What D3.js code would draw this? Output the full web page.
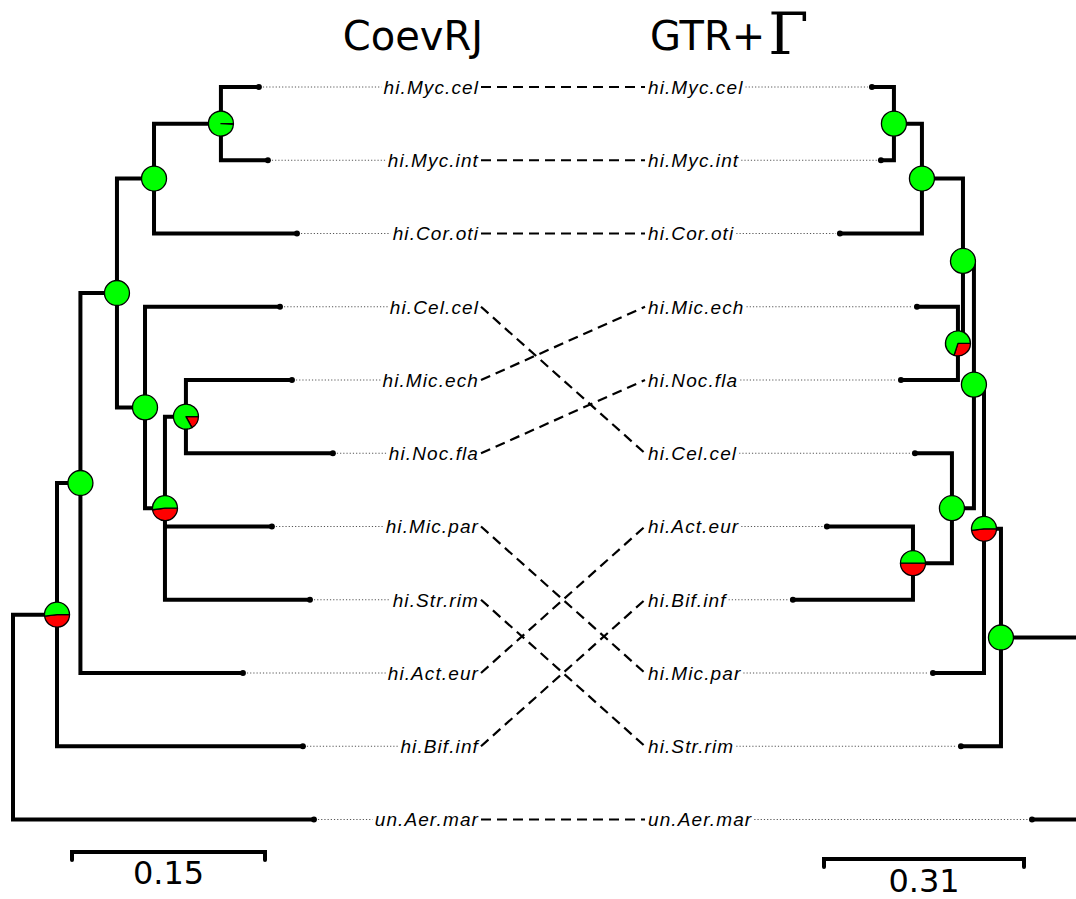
<!DOCTYPE html>
<html>
<head>
<meta charset="utf-8">
<script src="https://cdn.jsdelivr.net/npm/d3@7"></script>
<style>
  html, body { margin: 0; padding: 0; background: #fff; }
  svg { display: block; }
</style>
</head>
<body>
<svg id="chart" width="1076" height="899"></svg>
<script>
// Tree topologies as [node, parent, branch length]; child order = drawing order.
const leftTree = [
  ["L0", "", 0],
  ["L1", "L0", 0.0342],
  ["L2", "L1", 0.0182],
  ["L3", "L2", 0.0284],
  ["L4", "L3", 0.0288],
  ["L6", "L4", 0.0520],
  ["hi.Myc.cel", "L6", 0.0295],
  ["hi.Myc.int", "L6", 0.0365],
  ["hi.Cor.oti", "L4", 0.1111],
  ["L5", "L3", 0.0218],
  ["hi.Cel.cel", "L5", 0.1049],
  ["L7", "L5", 0.0155],
  ["L8", "L7", 0.0163],
  ["hi.Mic.ech", "L8", 0.0824],
  ["hi.Noc.fla", "L8", 0.1142],
  ["hi.Mic.par", "L7", 0.0831],
  ["hi.Str.rim", "L7", 0.1127],
  ["hi.Act.eur", "L2", 0.1263],
  ["hi.Bif.inf", "L1", 0.1911],
  ["un.Aer.mar", "L0", 0.2339]
];

const rightTree = [
  ["R0", "", 0],
  ["R1", "R0", 0.1690],
  ["R2", "R1", 0.0263],
  ["R3", "R2", 0.0156],
  ["R4", "R3", 0.0170],
  ["R5", "R4", 0.0636],
  ["R8", "R5", 0.0434],
  ["hi.Myc.cel", "R8", 0.0341],
  ["hi.Myc.int", "R8", 0.0201],
  ["hi.Cor.oti", "R5", 0.1271],
  ["R6", "R4", 0.0078],
  ["hi.Mic.ech", "R6", 0.0635],
  ["hi.Noc.fla", "R6", 0.0883],
  ["R7", "R3", 0.0341],
  ["hi.Cel.cel", "R7", 0.0573],
  ["R9", "R7", 0.0604],
  ["hi.Act.eur", "R9", 0.1334],
  ["hi.Bif.inf", "R9", 0.1861],
  ["hi.Mic.par", "R2", 0.0791],
  ["hi.Str.rim", "R1", 0.0620],
  ["un.Aer.mar", "R0", 0.1209]
];

// Node pie charts: fraction of the red state (rest is green).
const leftPies = { L1: 0.48, L2: 0, L3: 0, L4: 0, L5: 0, L6: 0.008, L7: 0.48, L8: 0.17 };
const rightPies = { R1: 0, R2: 0.48, R3: 0, R4: 0, R5: 0, R6: 0.30, R7: 0, R8: 0, R9: 0.50 };

const titles = ["CoevRJ", "GTR+", "\u0393"];
const scaleBarValues = [0.15, 0.31];

// ---------------------------------------------------------------
const svg = d3.select("#chart");
const GREEN = "#00ff00", RED = "#ff0000";

const yRow = d3.scaleLinear().domain([0, 10]).range([87, 819.5]);
const xLeft = d3.scaleLinear().domain([0, 0.15]).range([13, 13 + 193]);
const xRight = d3.scaleLinear().domain([0, 0.31]).range([1110, 1110 - 200]);

function layout(rows, xs) {
  const root = d3.stratify().id(d => d[0]).parentId(d => d[1] || null)(rows);
  root.eachBefore(n => { n.dist = n.parent ? n.parent.dist + n.data[2] : 0; n.px = xs(n.dist); });
  root.leaves().forEach((l, i) => { l.py = yRow(i); });
  root.eachAfter(n => {
    if (n.children) n.py = (n.children[0].py + n.children[n.children.length - 1].py) / 2;
  });
  return root;
}

const leftRoot = layout(leftTree, xLeft);
const rightRoot = layout(rightTree, xRight);

const gDots = svg.append("g");
const gConn = svg.append("g");
const gTree = svg.append("g");
const gLab = svg.append("g");
const gPie = svg.append("g");

function drawBranches(root) {
  const p = d3.path();
  root.each(n => {
    if (n.parent) { p.moveTo(n.parent.px, n.py); p.lineTo(n.px, n.py); }
    if (n.children) {
      p.moveTo(n.px, n.children[0].py);
      p.lineTo(n.px, n.children[n.children.length - 1].py);
    }
  });
  gTree.append("path").attr("d", p.toString())
    .attr("fill", "none").attr("stroke", "#000")
    .attr("stroke-width", 4).attr("stroke-linecap", "square");
  gTree.selectAll(null).data(root.leaves()).enter().append("circle")
    .attr("cx", d => d.px).attr("cy", d => d.py).attr("r", 3).attr("fill", "#000");
}
drawBranches(leftRoot);
drawBranches(rightRoot);

// Leaf labels with dotted leaders
const labelFont = { family: "'Liberation Sans', Arial, sans-serif", size: 19 };
const LEFT_LABEL_END = 479, RIGHT_LABEL_START = 648;

function drawLabels(root, side) {
  root.leaves().forEach(l => {
    const t = gLab.append("text")
      .attr("x", side === "left" ? LEFT_LABEL_END : RIGHT_LABEL_START)
      .attr("y", l.py).attr("dy", "0.36em")
      .attr("text-anchor", side === "left" ? "end" : "start")
      .attr("font-family", labelFont.family).attr("font-size", labelFont.size)
      .attr("font-style", "italic").attr("letter-spacing", "1.1px")
      .attr("fill", "#000").text(l.id);
    const w = t.node().getComputedTextLength();
    let x1, x2;
    if (side === "left") { x1 = l.px + 4; x2 = LEFT_LABEL_END - w - 2; }
    else { x1 = RIGHT_LABEL_START + w + 2; x2 = l.px - 4; }
    gDots.append("line").attr("x1", x1).attr("x2", x2).attr("y1", l.py).attr("y2", l.py)
      .attr("stroke", "#555").attr("stroke-width", 1).attr("stroke-dasharray", "1.2,2");
  });
}
drawLabels(leftRoot, "left");
drawLabels(rightRoot, "right");

// Dashed connectors between matching leaves
const rightLeafY = new Map(rightRoot.leaves().map(l => [l.id, l.py]));
leftRoot.leaves().forEach(l => {
  gConn.append("line")
    .attr("x1", LEFT_LABEL_END + 2).attr("y1", l.py)
    .attr("x2", RIGHT_LABEL_START - 3).attr("y2", rightLeafY.get(l.id))
    .attr("stroke", "#000").attr("stroke-width", 2.2).attr("stroke-dasharray", "10,6");
});

// Pie charts on internal nodes: red runs clockwise from 3 o'clock, green fills the rest
const pie = d3.pie().sort(null).value(d => d.v).startAngle(Math.PI / 2).endAngle(Math.PI / 2 + 2 * Math.PI);
const arc = d3.arc().innerRadius(0).outerRadius(12.5);

function drawPies(root, pies) {
  root.descendants().filter(n => n.children && pies[n.id] !== undefined).forEach(n => {
    const red = pies[n.id];
    const g = gPie.append("g").attr("transform", `translate(${n.px},${n.py})`);
    if (red <= 0) {
      g.append("circle").attr("r", 12.5).attr("fill", GREEN).attr("stroke", "#000").attr("stroke-width", 1.3);
    } else {
      g.selectAll("path").data(pie([{ v: red, c: RED }, { v: 1 - red, c: GREEN }])).enter()
        .append("path").attr("d", arc).attr("fill", d => d.data.c)
        .attr("stroke", "#000").attr("stroke-width", 1.3).attr("stroke-linejoin", "round");
    }
  });
}
drawPies(leftRoot, leftPies);
drawPies(rightRoot, rightPies);

// Titles
svg.append("text").attr("x", 413).attr("y", 50).attr("text-anchor", "middle")
  .attr("font-family", "'DejaVu Sans', sans-serif").attr("font-size", 40).text(titles[0]);
const t2 = svg.append("text").attr("x", 650).attr("y", 50)
  .attr("font-family", "'DejaVu Sans', sans-serif").attr("font-size", 40);
t2.append("tspan").text(titles[1]);
t2.append("tspan").attr("font-family", "'DejaVu Serif', 'Liberation Serif', serif")
  .attr("font-size", 58).attr("dx", 3).attr("dy", 4).text(titles[2]);

// Scale bars
function scaleBar(x0, y0, xs, value, labelY) {
  const len = xs(value) - xs(0);
  const x1 = x0 + Math.abs(len);
  svg.append("path")
    .attr("d", `M${x0},${y0 + 8}V${y0}H${x1}V${y0 + 8}`)
    .attr("fill", "none").attr("stroke", "#000").attr("stroke-width", 4)
    .attr("stroke-linejoin", "miter").attr("stroke-linecap", "round");
  svg.append("text").attr("x", (x0 + x1) / 2).attr("y", labelY).attr("text-anchor", "middle")
    .attr("font-family", "'DejaVu Sans', sans-serif").attr("font-size", 32).text(value);
}
scaleBar(72, 852, xLeft, scaleBarValues[0], 884);
scaleBar(824, 859, xRight, scaleBarValues[1], 892);
</script>
</body>
</html>
